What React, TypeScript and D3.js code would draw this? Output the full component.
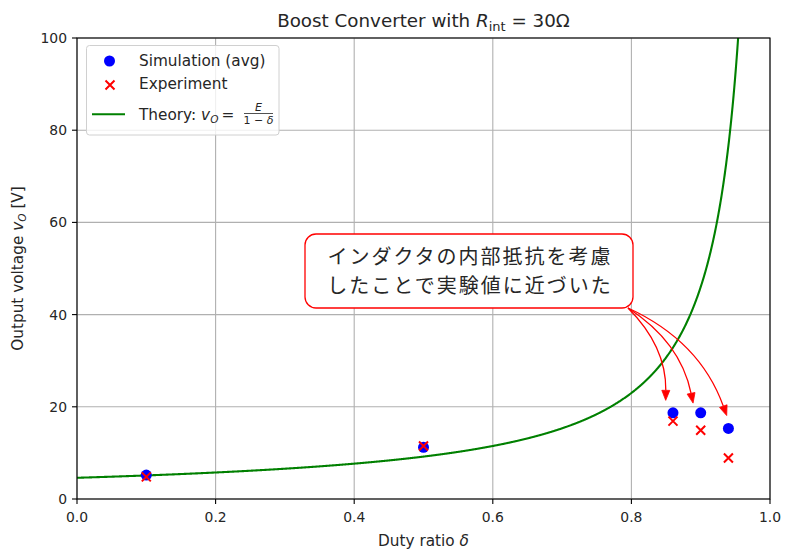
import React from "react";
import * as d3 from "d3";

// Measured duty ratios and output voltages
const dutyRatios = [0.1, 0.5, 0.86, 0.9, 0.94];
const simulationAvg = [5.2, 11.2, 18.7, 18.7, 15.3];
const experiment = [4.8, 11.5, 16.9, 14.9, 8.9];

// Input voltage for the ideal boost relation v_O = E / (1 - δ)
const sourceVoltage = 4.6;

const xTicks = [0, 0.2, 0.4, 0.6, 0.8, 1.0];
const yTicks = [0, 20, 40, 60, 80, 100];

// Annotated points (arrow tips, data coordinates)
const arrowTips: [number, number][] = [
  [0.8495, 21.4],
  [0.889, 20.8],
  [0.9375, 18.1],
];

const noteLines = ["インダクタの内部抵抗を考慮", "したことで実験値に近づいた"];

const W = 785;
const H = 552;
const plot = { left: 77, right: 770, top: 38, bottom: 499 };
const FONT = "'DejaVu Sans', sans-serif";
const CJK = "'Noto Sans CJK JP', 'DejaVu Sans', sans-serif";
const LABEL = 15.3;

export default function App() {
  const x = d3.scaleLinear().domain([0, 1]).range([plot.left, plot.right]);
  const y = d3.scaleLinear().domain([0, 100]).range([plot.bottom, plot.top]);

  const theory = d3.range(0, 0.9995, 0.0005).map((d) => [d, sourceVoltage / (1 - d)] as [number, number]);
  const line = d3
    .line<[number, number]>()
    .x((d) => x(d[0]))
    .y((d) => y(Math.min(d[1], 140)));

  // annotation box
  const box = { x0: 305, x1: 633, y0: 234, y1: 308 };
  const start: [number, number] = [box.x1 - 5, box.y1];

  const arrows = arrowTips.map(([dx, dv]) => {
    const p2: [number, number] = [x(dx), y(dv)];
    const ddx = p2[0] - start[0];
    const ddy = p2[1] - start[1];
    const f = 0.21;
    const c: [number, number] = [(start[0] + p2[0]) / 2 + f * ddy, (start[1] + p2[1]) / 2 - f * ddx];
    // tangent at end
    const tx = p2[0] - c[0];
    const ty = p2[1] - c[1];
    const len = Math.hypot(tx, ty);
    const ux = tx / len;
    const uy = ty / len;
    const hl = 10;
    const hw = 4;
    const base: [number, number] = [p2[0] - ux * hl, p2[1] - uy * hl];
    const head = [
      p2,
      [base[0] - uy * hw, base[1] + ux * hw],
      [base[0] + uy * hw, base[1] - ux * hw],
    ];
    const path = `M${start[0]},${start[1]} Q${c[0]},${c[1]} ${base[0]},${base[1]}`;
    return { path, head: head.map((p) => p.join(",")).join(" ") };
  });

  const cross = (cx: number, cy: number, s: number) =>
    `M${cx - s},${cy - s}L${cx + s},${cy + s}M${cx - s},${cy + s}L${cx + s},${cy - s}`;

  const boxCx = (box.x0 + box.x1) / 2;

  return (
    <svg
      width={W}
      height={H}
      viewBox={`0 0 ${W} ${H}`}
      style={{ position: "absolute", left: 0, top: 0, background: "#fff" }}
      fontFamily={FONT}
    >
      <defs>
        <clipPath id="plotArea">
          <rect x={plot.left} y={plot.top} width={plot.right - plot.left} height={plot.bottom - plot.top} />
        </clipPath>
      </defs>
      <rect x={0} y={0} width={W} height={H} fill="#fff" />

      {/* grid */}
      <g stroke="#b0b0b0" strokeWidth={1.1}>
        {xTicks.map((t) => (
          <line key={`gx${t}`} x1={x(t)} x2={x(t)} y1={plot.top} y2={plot.bottom} />
        ))}
        {yTicks.map((t) => (
          <line key={`gy${t}`} x1={plot.left} x2={plot.right} y1={y(t)} y2={y(t)} />
        ))}
      </g>

      {/* theory curve */}
      <path d={line(theory) || ""} fill="none" stroke="#008000" strokeWidth={2.1} clipPath="url(#plotArea)" />

      {/* simulation points */}
      <g fill="#0000ff">
        {dutyRatios.map((d, i) => (
          <circle key={`s${i}`} cx={x(d)} cy={y(simulationAvg[i])} r={5.5} />
        ))}
      </g>
      {/* experiment points */}
      <g stroke="#ff0000" strokeWidth={2} fill="none">
        {dutyRatios.map((d, i) => (
          <path key={`e${i}`} d={cross(x(d), y(experiment[i]), 4.5)} />
        ))}
      </g>

      {/* spines */}
      <rect
        x={plot.left}
        y={plot.top}
        width={plot.right - plot.left}
        height={plot.bottom - plot.top}
        fill="none"
        stroke="#000"
        strokeWidth={1.1}
      />

      {/* ticks */}
      <g stroke="#000" strokeWidth={1.1}>
        {xTicks.map((t) => (
          <line key={`tx${t}`} x1={x(t)} x2={x(t)} y1={plot.bottom} y2={plot.bottom + 5} />
        ))}
        {yTicks.map((t) => (
          <line key={`ty${t}`} x1={plot.left - 5} x2={plot.left} y1={y(t)} y2={y(t)} />
        ))}
      </g>
      <g fontSize={13.9} fill="#262626">
        {xTicks.map((t) => (
          <text key={`lx${t}`} x={x(t)} y={plot.bottom + 23} textAnchor="middle">
            {t.toFixed(1)}
          </text>
        ))}
        {yTicks.map((t) => (
          <text key={`ly${t}`} x={plot.left - 10} y={y(t) + 5} textAnchor="end">
            {t}
          </text>
        ))}
      </g>

      {/* axis labels */}
      <text x={(plot.left + plot.right) / 2} y={546} textAnchor="middle" fontSize={LABEL} fill="#262626">
        Duty ratio <tspan fontStyle="italic">δ</tspan>
      </text>
      <text
        transform={`translate(23,${(plot.top + plot.bottom) / 2}) rotate(-90)`}
        textAnchor="middle"
        fontSize={LABEL}
        fill="#262626"
      >
        Output voltage <tspan fontStyle="italic">v</tspan>
        <tspan fontStyle="italic" fontSize={10.5} dy={3}>O</tspan>
        <tspan dy={-3}> [V]</tspan>
      </text>

      {/* title */}
      <text x={(plot.left + plot.right) / 2} y={27} textAnchor="middle" fontSize={18.3} fill="#262626">
        Boost Converter with <tspan fontStyle="italic">R</tspan>
        <tspan fontSize={13} dy={4}>int</tspan>
        <tspan dy={-4}> = 30Ω</tspan>
      </text>

      {/* legend */}
      <g>
        <rect x={86.5} y={45.5} width={192.5} height={89.5} rx={3} fill="#fff" fillOpacity={0.8} stroke="#d0d0d0" />
        <circle cx={109.5} cy={61} r={5.5} fill="#0000ff" />
        <path d={cross(110, 85, 4.5)} stroke="#ff0000" strokeWidth={2} fill="none" />
        <line x1={92} x2={125} y1={114.3} y2={114.3} stroke="#008000" strokeWidth={2.1} />
        <g fontSize={LABEL} fill="#262626">
          <text x={139} y={66}>Simulation (avg)</text>
          <text x={139} y={88.5}>Experiment</text>
          <text x={139} y={119.5}>
            Theory: <tspan fontStyle="italic">v</tspan>
            <tspan fontStyle="italic" fontSize={10.5} dy={3}>O</tspan>
            <tspan dy={-3} dx={3}>=</tspan>
          </text>
          <text x={258.5} y={110.5} fontSize={11} fontStyle="italic" textAnchor="middle">E</text>
          <line x1={244} x2={273} y1={113.5} y2={113.5} stroke="#262626" strokeWidth={0.8} />
          <text x={258.5} y={124} fontSize={11} textAnchor="middle">
            1 − <tspan fontStyle="italic">δ</tspan>
          </text>
        </g>
      </g>

      {/* annotation arrows */}
      <g>
        {arrows.map((a, i) => (
          <g key={`a${i}`}>
            <path d={a.path} fill="none" stroke="#ff0000" strokeWidth={1.3} />
            <polygon points={a.head} fill="#ff0000" stroke="#ff0000" strokeWidth={0.8} />
          </g>
        ))}
      </g>

      {/* annotation box */}
      <rect
        x={box.x0}
        y={box.y0}
        width={box.x1 - box.x0}
        height={box.y1 - box.y0}
        rx={11}
        fill="#fff"
        stroke="#ff0000"
        strokeWidth={1.3}
      />
      <g fontFamily={CJK} fontSize={20} letterSpacing={2} fill="#262626" textAnchor="middle">
        {noteLines.map((t, i) => (
          <text key={t} x={boxCx + 1} y={264 + i * 29.2}>
            {t}
          </text>
        ))}
      </g>
    </svg>
  );
}
